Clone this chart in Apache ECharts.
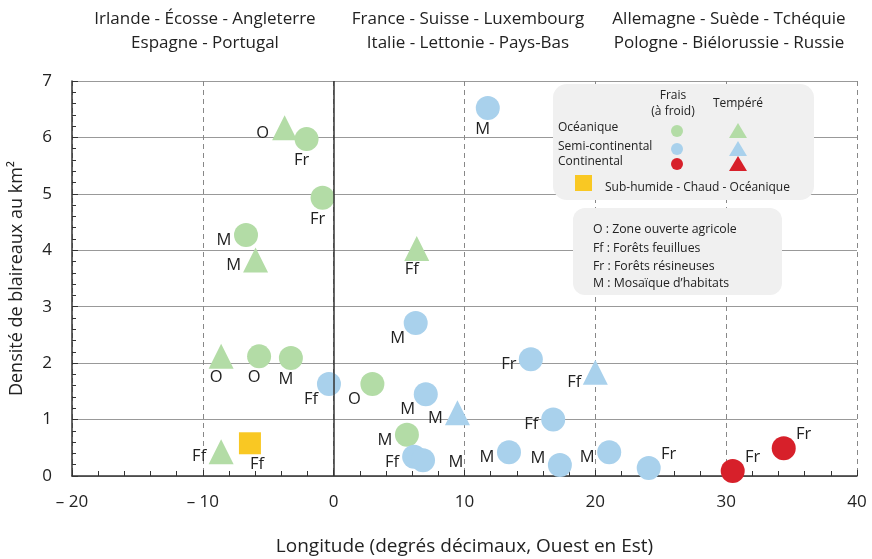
<!DOCTYPE html>
<html><head><meta charset="utf-8">
<script src="https://cdn.jsdelivr.net/npm/echarts@6/dist/echarts.min.js"></script>
<style>html,body{margin:0;padding:0;background:#fff}#c{width:872px;height:559px}</style>
</head><body><div id="c"></div>
<script>
// ---- data ----
const greenCircleX = [-2.07, -0.85, -6.7, -5.7, -3.27, 2.96, 5.6];
const greenCircleY = [5.97, 4.93, 4.27, 2.12, 2.09, 1.63, 0.73];
const greenCircleLab = ['Fr', 'Fr', 'M', 'O', 'M', 'O', 'M'];
const greenCircleDir = ['b', 'b', 'l', 'b', 'b', 'bl', 'l'];

const greenTriX = [-3.75, -8.6, -8.6, -5.97, 6.35];
const greenTriY = [6.17, 2.12, 0.43, 3.83, 4.03];
const greenTriLab = ['O', 'O', 'Ff', 'M', 'Ff'];
const greenTriDir = ['l', 'b', 'l', 'l', 'b'];

const blueCircleX = [11.78, 6.27, -0.36, 7.04, 6.15, 6.83, 15.07, 16.78, 13.4, 17.29, 21.06, 24.08];
const blueCircleY = [6.52, 2.71, 1.63, 1.45, 0.34, 0.28, 2.07, 1.0, 0.42, 0.195, 0.42, 0.14];
const blueCircleLab = ['M', 'M', 'Ff', 'M', 'Ff', 'M', 'Fr', 'Ff', 'M', 'M', 'M', 'Fr'];
const blueCircleDir = ['b', 'bl', 'bl', 'bl', 'l', 'r', 'l', 'l', 'l', 'lu', 'l', 'tr'];

const blueTriX = [9.46, 20.0];
const blueTriY = [1.12, 1.84];
const blueTriLab = ['M', 'Ff'];
const blueTriDir = ['l', 'lb'];

const redCircleX = [30.5, 34.4];
const redCircleY = [0.09, 0.49];
const redCircleLab = ['Fr', 'Fr'];
const redCircleDir = ['tr', 'tr'];

const yellowSqX = [-6.4];
const yellowSqY = [0.58];
const yellowSqLab = ['Ff'];
const yellowSqDir = ['br'];

const headers = [
  ['Irlande - Écosse - Angleterre', 'Espagne - Portugal'],
  ['France - Suisse - Luxembourg', 'Italie - Lettonie - Pays-Bas'],
  ['Allemagne - Suède - Tchéquie', 'Pologne - Biélorussie - Russie']
];
const legendRows = ['Océanique', 'Semi-continental', 'Continental'];
const habitatKey = ['O : Zone ouverte agricole', 'Ff : Forêts feuillues', 'Fr : Forêts résineuses', 'M : Mosaïque d\u2019habitats'];

// ---- styling ----
const GREEN = '#b3dca6', BLUE = '#a9d1ec', RED = '#d7202a', YELLOW = '#f9c823';
const FONT = 'Open Sans';
const offsets = {
  b: [-5, 21], bl: [-18, 15], l: [-22, 5], r: [33, 2], lu: [-22, -7], lb: [-21, 10],
  tr: [20, -14], br: [7, 21]
};
const chart = echarts.init(document.getElementById('c'));

function mk(xs, ys, labs, dirs, color, symbol, size) {
  return {
    type: 'scatter', symbol: symbol, symbolSize: size,
    itemStyle: { color: color, opacity: 1 },
    data: xs.map((x, i) => ({
      value: [x, ys[i]],
      label: { show: true, formatter: labs[i], position: 'inside', offset: offsets[dirs[i]],
               color: '#222', fontSize: 16.5, fontFamily: FONT }
    })),
    z: 3
  };
}

const series = [
  mk(greenCircleX, greenCircleY, greenCircleLab, greenCircleDir, GREEN, 'circle', 24),
  mk(greenTriX, greenTriY, greenTriLab, greenTriDir, GREEN, 'triangle', 25),
  mk(blueCircleX, blueCircleY, blueCircleLab, blueCircleDir, BLUE, 'circle', 24),
  mk(blueTriX, blueTriY, blueTriLab, blueTriDir, BLUE, 'triangle', 25),
  mk(redCircleX, redCircleY, redCircleLab, redCircleDir, RED, 'circle', 24),
  mk(yellowSqX, yellowSqY, yellowSqLab, yellowSqDir, YELLOW, 'rect', 22)
];
series[0].markLine = {
  silent: true, symbol: 'none', label: { show: false },
  lineStyle: { color: '#333', type: 'solid', width: 1.5 },
  data: [{ xAxis: 0 }]
};

const graphics = [];
const hx = [205, 468, 729];
headers.forEach((h, i) => {
  h.forEach((t, j) => graphics.push({ type: 'text', x: hx[i], y: 19 + j * 24,
    style: { text: t, fill: '#222', font: '17px "' + FONT + '"', textAlign: 'center', textVerticalAlign: 'middle' }, z: 10 }));
});
const LF = '12px "' + FONT + '"';
// legend box 1
graphics.push({ type: 'rect', shape: { x: 553, y: 84, width: 261, height: 116, r: 14 }, style: { fill: '#f0f0f0' }, z: 5 });
graphics.push({ type: 'text', x: 673, y: 96, style: { text: 'Frais', font: LF, fill: '#222', textAlign: 'center', textVerticalAlign: 'middle' }, z: 6 });
graphics.push({ type: 'text', x: 673, y: 112, style: { text: '(à froid)', font: LF, fill: '#222', textAlign: 'center', textVerticalAlign: 'middle' }, z: 6 });
graphics.push({ type: 'text', x: 738, y: 104, style: { text: 'Tempéré', font: LF, fill: '#222', textAlign: 'center', textVerticalAlign: 'middle' }, z: 6 });
const rowY = [128, 147, 162];
const rowCol = [GREEN, BLUE, RED];
legendRows.forEach((t, i) => {
  graphics.push({ type: 'text', x: 558, y: rowY[i], style: { text: t, font: LF, fill: '#222', textAlign: 'left', textVerticalAlign: 'middle' }, z: 6 });
  const ty = rowY[i] + 3 - (i === 0 ? 0 : 1);
  graphics.push({ type: 'circle', shape: { cx: 677, cy: ty, r: 6 }, style: { fill: rowCol[i] }, z: 6 });
  graphics.push({ type: 'polygon', shape: { points: [[738, ty - 8], [747, ty + 7], [729, ty + 7]] }, style: { fill: rowCol[i] }, z: 6 });
});
graphics.push({ type: 'rect', shape: { x: 575, y: 175, width: 17, height: 16 }, style: { fill: YELLOW }, z: 6 });
graphics.push({ type: 'text', x: 605, y: 188, style: { text: 'Sub-humide - Chaud - Océanique', font: LF, fill: '#222', textAlign: 'left', textVerticalAlign: 'middle' }, z: 6 });
// legend box 2
graphics.push({ type: 'rect', shape: { x: 573, y: 208, width: 209, height: 87, r: 12 }, style: { fill: '#f0f0f0' }, z: 5 });
const keyY = [229, 248, 266, 283];
habitatKey.forEach((t, i) => graphics.push({ type: 'text', x: 593, y: keyY[i], style: { text: t, font: '12.3px "' + FONT + '"', fill: '#222', textAlign: 'left', textVerticalAlign: 'middle' }, z: 6 }));

chart.setOption({
  animation: false,
  textStyle: { fontFamily: FONT },
  grid: { left: 72, right: 15, top: 81, bottom: 83, outerBoundsMode: 'none', containLabel: false },
  xAxis: {
    type: 'value', min: -20, max: 40, interval: 10,
    name: 'Longitude (degrés décimaux, Ouest en Est)', nameLocation: 'middle', nameGap: 61,
    nameTextStyle: { fontSize: 19, color: '#222', fontFamily: FONT },
    axisLine: { show: true, onZero: false, lineStyle: { color: '#333', width: 1.5 } },
    axisTick: { show: true, inside: true, length: 6, lineStyle: { color: '#333' } },
    minorTick: { show: true, splitNumber: 5, length: 5, lineStyle: { color: '#333' } },
    axisLabel: { fontSize: 17, color: '#222', margin: 18, fontFamily: FONT,
      formatter: v => v < 0 ? '\u2013 ' + Math.abs(v) : String(v) },
    splitLine: { show: true, lineStyle: { color: '#888', type: [5, 4], width: 1 } }
  },
  yAxis: {
    type: 'value', min: 0, max: 7, interval: 1,
    name: 'Densité de blaireaux au km²', nameLocation: 'middle', nameGap: 46, nameRotate: 90,
    nameTextStyle: { fontSize: 18, color: '#222', fontFamily: FONT },
    axisLine: { show: true, onZero: false, lineStyle: { color: '#333', width: 1.5 } },
    axisTick: { show: true, inside: true, length: 6, lineStyle: { color: '#333' } },
    minorTick: { show: true, splitNumber: 5, length: 4, lineStyle: { color: '#333' } },
    axisLabel: { fontSize: 17, color: '#222', margin: 20, fontFamily: FONT },
    splitLine: { show: true, lineStyle: { color: '#999', type: 'solid', width: 1.2 } }
  },
  graphic: graphics,
  series: series
});
</script></body></html>
